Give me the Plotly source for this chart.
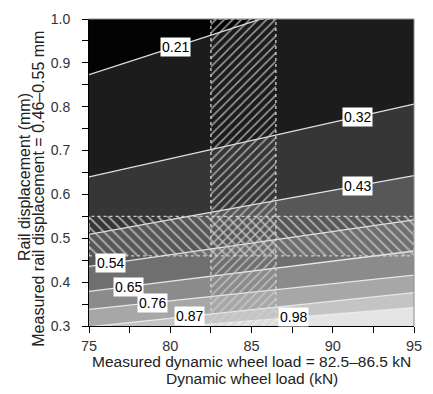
import plotly.graph_objects as go

# ---- data ----
levels = [0.21, 0.32, 0.43, 0.54, 0.65, 0.76, 0.87, 0.98]
level_labels = ["0.21", "0.32", "0.43", "0.54", "0.65", "0.76", "0.87", "0.98"]
# rail displacement (mm) of each contour line at 75 kN and at 95 kN
line_y_at_75 = [0.873, 0.640, 0.509, 0.436, 0.379, 0.338, 0.298, 0.282]
line_y_at_95 = [1.113, 0.806, 0.643, 0.542, 0.471, 0.416, 0.376, 0.342]
# dynamic wheel load (kN) where each contour label sits
label_x = [80.3, 91.5, 91.5, 76.3, 77.4, 78.9, 81.2, 87.6]
# grey of each filled region, from z < 0.21 (top) to z > 0.98 (bottom)
region_greys = ["#030303", "#1c1c1c", "#363636", "#575757", "#6f6f6f",
                "#8b8b8b", "#a7a7a7", "#c4c4c4", "#e4e4e4"]
x_range = [75, 95]
y_range = [0.3, 1.0]
x_ticks = [75, 80, 85, 90, 95]
y_ticks = [0.3, 0.4, 0.5, 0.6, 0.7, 0.8, 0.9, 1.0]
load_band = [82.5, 86.5]      # measured dynamic wheel load (kN)
disp_band = [0.46, 0.55]      # measured rail displacement (mm)

FONT = "Liberation Sans, Arial, Helvetica, sans-serif"

fig = go.Figure()

# filled contour regions: region above each line, drawn from the lowest line up
far_top = y_range[1] + 0.5
for k in range(len(levels) - 1, -1, -1):
    fig.add_trace(go.Scatter(
        x=[x_range[0], x_range[1], x_range[1], x_range[0]],
        y=[line_y_at_75[k], line_y_at_95[k], far_top, far_top],
        fill="toself", fillcolor=region_greys[k],
        line=dict(width=0), mode="lines", hoverinfo="skip", showlegend=False))

# contour lines
for k in range(len(levels)):
    fig.add_trace(go.Scatter(
        x=x_range, y=[line_y_at_75[k], line_y_at_95[k]],
        mode="lines", line=dict(color="rgba(235,235,235,0.95)", width=1.3),
        name=level_labels[k], showlegend=False))

# measured-load band (vertical, hatched /)
fig.add_trace(go.Scatter(
    x=[load_band[0], load_band[1], load_band[1], load_band[0], load_band[0]],
    y=[y_range[0], y_range[0], y_range[1], y_range[1], y_range[0]],
    fill="toself", fillcolor="rgba(0,0,0,0)", mode="lines",
    line=dict(color="rgba(215,215,215,0.9)", width=1.4, dash="dot"),
    fillpattern=dict(shape="/", size=6, solidity=0.25,
                     fgcolor="#d0d0d0", fgopacity=0.75, bgcolor="rgba(0,0,0,0)"),
    showlegend=False, hoverinfo="skip"))

# measured-displacement band (horizontal, hatched \)
fig.add_trace(go.Scatter(
    x=[x_range[0], x_range[1], x_range[1], x_range[0], x_range[0]],
    y=[disp_band[0], disp_band[0], disp_band[1], disp_band[1], disp_band[0]],
    fill="toself", fillcolor="rgba(0,0,0,0)", mode="lines",
    line=dict(color="rgba(215,215,215,0.9)", width=1.4, dash="dot"),
    fillpattern=dict(shape="\\", size=7, solidity=0.25,
                     fgcolor="#d0d0d0", fgopacity=0.75, bgcolor="rgba(0,0,0,0)"),
    showlegend=False, hoverinfo="skip"))

# contour labels, placed on their lines
for k in range(len(levels)):
    t = (label_x[k] - x_range[0]) / (x_range[1] - x_range[0])
    ly = line_y_at_75[k] + t * (line_y_at_95[k] - line_y_at_75[k])
    fig.add_annotation(x=label_x[k], y=ly, text=level_labels[k], showarrow=False,
                       font=dict(family=FONT, size=14, color="black"),
                       bgcolor="white", borderpad=1,
                       xanchor="center", yanchor="middle")

# axis titles (two lines each)
fig.add_annotation(xref="paper", yref="paper", x=0.5, y=-0.115,
                   text="Measured dynamic wheel load = 82.5\u201386.5 kN",
                   showarrow=False, font=dict(family=FONT, size=15.5, color="#222"),
                   xanchor="center", yanchor="middle")
fig.add_annotation(xref="paper", yref="paper", x=0.5, y=-0.172,
                   text="Dynamic wheel load (kN)",
                   showarrow=False, font=dict(family=FONT, size=15.5, color="#222"),
                   xanchor="center", yanchor="middle")
fig.add_annotation(xref="paper", yref="paper", x=-0.198, y=0.484,
                   text="Rail displacement (mm)", textangle=-90,
                   showarrow=False, font=dict(family=FONT, size=16, color="#222"),
                   xanchor="center", yanchor="middle")
fig.add_annotation(xref="paper", yref="paper", x=-0.154, y=0.447,
                   text="Measured rail displacement = 0.46\u20130.55 mm", textangle=-90,
                   showarrow=False, font=dict(family=FONT, size=16, color="#222"),
                   xanchor="center", yanchor="middle")

# light frame on top / right
fig.add_shape(type="line", xref="paper", yref="paper", x0=0, x1=1, y0=1, y1=1,
              line=dict(color="#8a8a8a", width=1))
fig.add_shape(type="line", xref="paper", yref="paper", x0=1, x1=1, y0=0, y1=1,
              line=dict(color="#8a8a8a", width=1))

fig.update_layout(
    width=433, height=394,
    margin=dict(l=89, r=11, t=12, b=68),
    paper_bgcolor="white", plot_bgcolor=region_greys[-1],
    font=dict(family=FONT, size=14, color="#333"),
    showlegend=False,
)
fig.update_xaxes(range=x_range, tickvals=x_ticks,
                 ticks="outside", ticklen=6, tickcolor="black", tickwidth=1,
                 minor=dict(ticks="outside", ticklen=6, dtick=2.5, tickcolor="black"),
                 showline=True, linecolor="black", linewidth=1,
                 showgrid=False, zeroline=False, ticklabelstandoff=1,
                 ticklabeloverflow="allow",
                 tickfont=dict(family=FONT, size=14.5, color="#333"))
fig.update_yaxes(range=y_range, tickvals=y_ticks,
                 tickformat=".1f",
                 ticks="outside", ticklen=6, tickcolor="black", tickwidth=1,
                 minor=dict(ticks="outside", ticklen=6, dtick=0.05, tickcolor="black"),
                 showline=True, linecolor="black", linewidth=1,
                 showgrid=False, zeroline=False, ticklabelstandoff=9,
                 ticklabeloverflow="allow",
                 tickfont=dict(family=FONT, size=14, color="#333"))

# remove the page's default body margin so the figure sits at the window's corner
fig.write_html("out.html", config={"displayModeBar": False},
               post_script="document.body.style.margin='0';")
